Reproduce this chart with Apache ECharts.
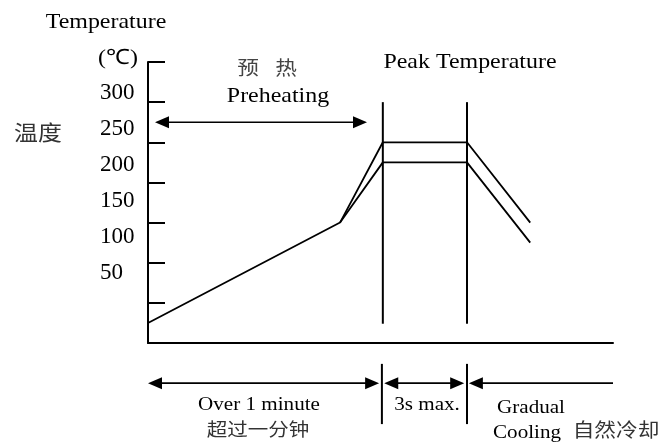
<!DOCTYPE html>
<html>
<head>
<meta charset="utf-8">
<script src="https://cdn.jsdelivr.net/npm/echarts@6/dist/echarts.min.js"></script>
<style>
html,body{margin:0;padding:0;background:#fff;}
#chart{width:664px;height:448px;}
</style>
</head>
<body>
<div id="chart"></div>
<script>
// ---- data ----
const yTickLabels = [50, 100, 150, 200, 250, 300];
// temperature profile (x: relative time units 0-100, y: °C)
const profileUpper = [[0, 25], [41.3, 150], [50.5, 250], [68.6, 250], [82.2, 150]];
const profileLower = [[41.3, 150], [50.5, 225], [68.6, 225], [82.2, 125]];
// vertical boundary lines: [x, yFrom, yTo]
const boundaries = [[50.5, 24, 300], [68.6, 24, 300], [50.3, -26, -101], [68.6, -26, -101]];
// arrows: [xFrom, xTo, y, headAtStart, headAtEnd]
const arrows = [
  [1.5, 47.1, 275, 1, 1],
  [0, 49.7, -50, 1, 1],
  [50.8, 68.0, -50, 1, 1],
  [69.0, 100, -50, 1, 0]
];

const serif = '"Liberation Serif", "Times New Roman", serif';
const cjk = '"Noto Sans CJK SC", sans-serif';
const SX = 1.14;

function txt(text, x, y, size, family, color, sx) {
  return {
    type: 'text', x: x, y: y, scaleX: sx == null ? SX : sx,
    style: { text: text, font: size + 'px ' + family, fill: color || '#000', align: 'center', verticalAlign: 'middle' }
  };
}

const chart = echarts.init(document.getElementById('chart'));
chart.setOption({
  animation: false,
  backgroundColor: '#fff',
  grid: { left: 148, right: 51, top: 62, bottom: 105 },
  xAxis: {
    type: 'value', min: 0, max: 100,
    axisLine: { show: true, lineStyle: { color: '#000', width: 2 } },
    axisTick: { show: false }, axisLabel: { show: false }, splitLine: { show: false }
  },
  yAxis: [
    {
      type: 'value', min: 0, max: 350, interval: 50,
      axisLine: { show: true, lineStyle: { color: '#000', width: 2 } },
      axisTick: { show: true, inside: true, length: 17, lineStyle: { color: '#000', width: 2 } },
      axisLabel: { show: false }, splitLine: { show: false }
    },
    {
      type: 'value', position: 'left', min: -47.2, max: 343.1,
      axisLine: { show: false }, axisTick: { show: false }, splitLine: { show: false },
      axisLabel: {
        customValues: yTickLabels, align: 'left', margin: 48,
        color: '#000', fontFamily: serif, fontSize: 23
      }
    }
  ],
  graphic: [
    txt('Temperature', 106, 22, 21, serif),
    txt('(℃)', 118, 58, 21, serif),
    txt('温度', 38, 132, 21, cjk, '#333'),
    txt('预', 248, 68, 19, cjk, '#444'),
    txt('热', 286, 68, 19, cjk, '#444'),
    txt('Preheating', 278, 96, 21, serif),
    txt('Peak Temperature', 470, 62, 21, serif),
    txt('Over 1 minute', 259, 405, 18.5, serif),
    txt('超过一分钟', 258, 429, 18, cjk, '#333'),
    txt('3s max.', 427, 405, 18.5, serif),
    txt('Gradual', 531, 408, 18.5, serif),
    txt('Cooling', 527, 433, 18.5, serif),
    txt('自然冷却', 616, 430, 19, cjk, '#333')
  ],
  series: [
    {
      type: 'line', data: profileUpper, symbol: 'none',
      lineStyle: { color: '#000', width: 1.8 }
    },
    {
      type: 'line', data: profileLower, symbol: 'none',
      lineStyle: { color: '#000', width: 1.8 }
    },
    {
      type: 'custom', clip: false, data: boundaries,
      encode: { x: 0, y: [1, 2] },
      renderItem: function (params, api) {
        const a = api.coord([api.value(0), api.value(1)]);
        const b = api.coord([api.value(0), api.value(2)]);
        return {
          type: 'line',
          shape: { x1: a[0], y1: a[1], x2: b[0], y2: b[1] },
          style: { stroke: '#000', lineWidth: 2 }
        };
      }
    },
    {
      type: 'custom', clip: false, data: arrows,
      encode: { x: [0, 1], y: 2 },
      renderItem: function (params, api) {
        const a = api.coord([api.value(0), api.value(2)]);
        const b = api.coord([api.value(1), api.value(2)]);
        const L = 14, W = 6;
        const children = [{
          type: 'line',
          shape: { x1: a[0] + (api.value(3) ? L - 2 : 0), y1: a[1], x2: b[0] - (api.value(4) ? L - 2 : 0), y2: b[1] },
          style: { stroke: '#000', lineWidth: 1.6 }
        }];
        if (api.value(3)) {
          children.push({ type: 'polygon', shape: { points: [[a[0], a[1]], [a[0] + L, a[1] - W], [a[0] + L, a[1] + W]] }, style: { fill: '#000' } });
        }
        if (api.value(4)) {
          children.push({ type: 'polygon', shape: { points: [[b[0], b[1]], [b[0] - L, b[1] - W], [b[0] - L, b[1] + W]] }, style: { fill: '#000' } });
        }
        return { type: 'group', children: children };
      }
    }
  ]
});
</script>
</body>
</html>
